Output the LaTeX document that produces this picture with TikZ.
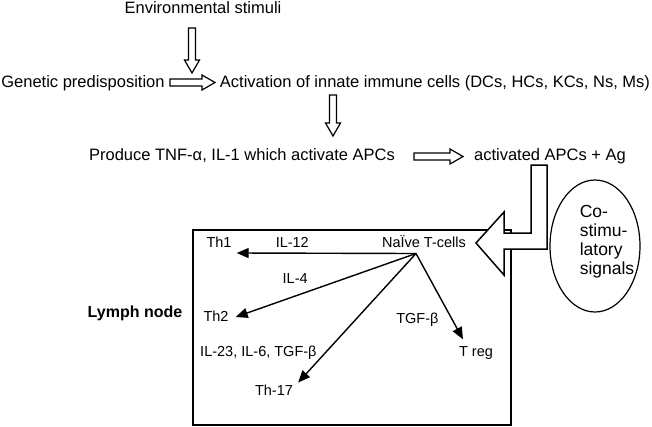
\documentclass[tikz,border=0pt]{standalone}
\usepackage{fontspec}
\setmainfont{Liberation Sans}
\usetikzlibrary{positioning,arrows.meta,shapes.geometric,calc}
\tikzset{
	every node/.style={inner sep=0pt},
	lbl/.style={font=\fontsize{16.5}{19}\selectfont},
	cell/.style={font=\fontsize{14.5}{17}\selectfont},
	push/.style={line width=1.4pt, -{Triangle[length=12pt,width=10pt]}},
	hollow/.style={draw, line width=1.2pt, fill=white, line join=miter},
}
% open block arrow from coordinate #1 to coordinate #2
\newcommand\fatarrow[2]{%
	\coordinate (fa-b) at ($(#2)!13pt!(#1)$);
	\draw[hollow] ($(#1)!3.5pt!90:(#2)$) -- ($(fa-b)!3.5pt!-90:(#1)$) -- ($(fa-b)!7.5pt!-90:(#1)$)
		-- (#2) -- ($(fa-b)!7.5pt!90:(#1)$) -- ($(fa-b)!3.5pt!90:(#1)$) -- ($(#1)!3.5pt!-90:(#2)$) -- cycle;
}

\begin{document}
\begin{tikzpicture}[x=1pt, y=-1pt]
	\useasboundingbox (0,0) rectangle (652,426);
	% top chain
	\node[lbl] (envs) at (203,8) {Environmental stimuli};
	\node[lbl] (gene) at (83,83) {Genetic predisposition};
	\node[lbl] (innate) at (435,83) {Activation of innate immune cells (DCs, HCs, KCs, Ns, Ms)};
	\node[lbl] (tnf) at (242,156) {Produce TNF-α, IL-1 which activate APCs};
	\node[lbl] (apcs) at (550,156) {activated APCs + Ag};

	\coordinate (a1s) at (192,28);   \coordinate (a1e) at (192,73);
	\coordinate (a2s) at (170,82.5); \coordinate (a2e) at (215,82.5);
	\coordinate (a3s) at (333,95);   \coordinate (a3e) at (333,136);
	\coordinate (a4s) at (414,156.5); \coordinate (a4e) at (463,156.5);
	\fatarrow{a1s}{a1e}
	\fatarrow{a2s}{a2e}
	\fatarrow{a3s}{a3e}
	\fatarrow{a4s}{a4e}

	% lymph node
	\node[font=\fontsize{16}{19}\selectfont\bfseries] (lymph) at (135,313) {Lymph node};
	\draw[line width=1.4pt] (193,230) rectangle (511,425);

	% big arrow into the lymph node
	\draw[hollow, line width=1.5pt] (547,165) -- (531,165) -- (531,233) -- (504,233) -- (504,212)
		-- (476,243) -- (504,275) -- (504,249) -- (547,249) -- cycle;

	\node[draw, ellipse, line width=1.2pt, minimum width=90, minimum height=132] (costim) at (595,246) {};
	\node[font=\fontsize{17.5}{19}\selectfont, align=left] (costxt) at ([xshift=12pt,yshift=4pt]costim.center) {Co-\\stimu-\\latory\\signals};

	% T cell fates
	\node[cell] (naive) at (424,241) {NaÏve T-cells};
	\coordinate (src) at (416,253.5);
	\node[cell] (th1) at (219,242) {Th1};
	\node[cell] (th2) at (216,316) {Th2};
	\node[cell] (th17) at (274,390) {Th-17};
	\node[cell] (treg) at (476,353) {T reg};

	\draw[push] (src) -- node[cell, pos=0.69, above=5pt] {IL-12} ([xshift=5pt,yshift=-11pt]th1.east);
	\draw[push] (src) -- node[cell, pos=0.67, above=12pt] {IL-4} ([xshift=7pt,yshift=-1pt]th2.east);
	\draw[push] (src) -- node[cell, pos=0.77, left=8pt] {IL-23, IL-6, TGF-β} ([xshift=5pt,yshift=2pt]th17.north east);
	\draw[push] (src) -- node[cell, pos=0.77, left=13pt] {TGF-β} ([xshift=-13pt,yshift=7pt]treg.north);
\end{tikzpicture}
\end{document}
